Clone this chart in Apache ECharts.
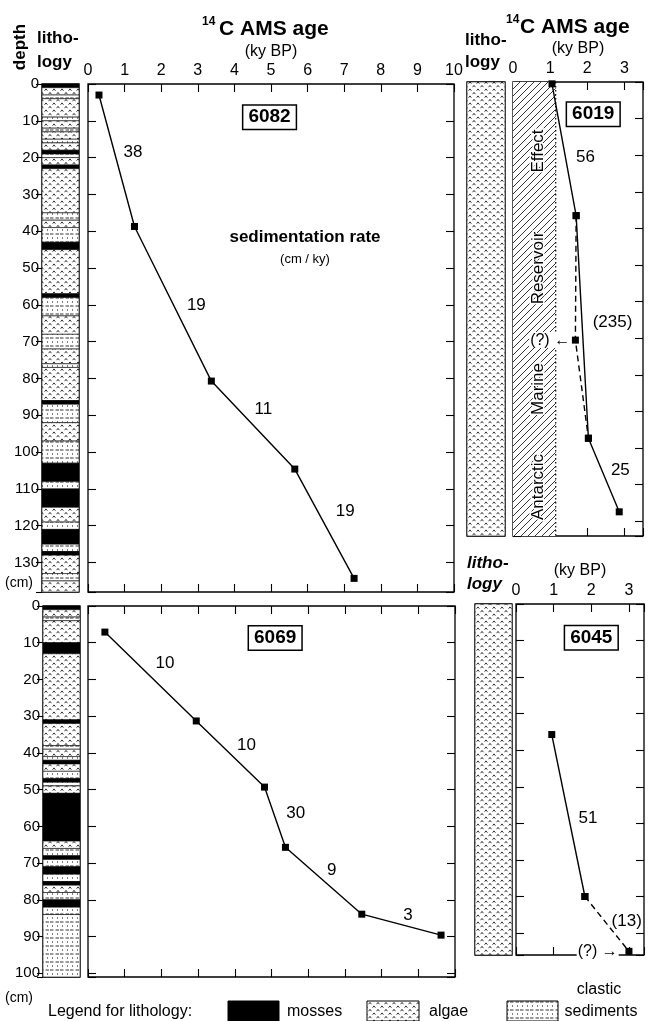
<!DOCTYPE html>
<html>
<head>
<meta charset="utf-8">
<script src="https://cdn.jsdelivr.net/npm/echarts@6/dist/echarts.min.js"></script>
<style>
  html, body { margin: 0; padding: 0; background: #fff; }
  #chart { width: 651px; height: 1021px; }
</style>
</head>
<body>
<div id="chart"></div>
<script>
// ---- data (ages in ky BP, depths in cm) ----
const core6082Age   = [0.3, 1.27, 3.37, 5.65, 7.27];
const core6082Depth = [3, 38.7, 80.7, 104.6, 134.3];
const core6082Rates = [[1.23, 18.5, '38'], [2.96, 60.2, '19'], [4.79, 88.3, '11'], [7.03, 116, '19']];

const core6069Age   = [0.46, 2.95, 4.81, 5.38, 7.46, 9.62];
const core6069Depth = [7.1, 31.3, 49.3, 65.7, 83.9, 89.6];
const core6069Rates = [[2.1, 15.5, '10'], [4.32, 37.9, '10'], [5.66, 56.4, '30'], [6.64, 71.9, '9'], [8.72, 84.2, '3']];

const core6019Age   = [1.05, 1.7, 2.03, 2.86];
const core6019Depth = [0.5, 36.5, 97.3, 117.4];
const core6019QAge   = [1.7, 1.68, 2.03];   // dashed path through the doubtful date
const core6019QDepth = [36.5, 70.5, 97.3];
const core6019Rates = [[1.95, 20.5, '56'], [2.68, 65.7, '(235)'], [2.89, 106, '25']];
const reservoirAge = 1.15;

const core6045Age   = [0.95, 1.83];
const core6045Depth = [35.7, 80];
const core6045QAge   = [1.83, 3.0];
const core6045QDepth = [80, 95];
const core6045Rates = [[1.91, 58.5, '51'], [2.94, 86.9, '(13)']];

// lithology layers: [top, bottom, type]  M = mosses, A = algae, C = clastic sediments
const litho6082 = [
  [0,1,'M'],[1,3,'A'],[3,4,'C'],[4,9,'A'],[9,10,'C'],[10,12,'A'],[12,13,'C'],[13,15,'A'],
  [15,16,'C'],[16,18,'A'],[18,19,'M'],[19,20,'C'],[20,22,'A'],[22,23,'M'],[23,35,'A'],
  [35,37,'C'],[37,39,'A'],[39,43,'C'],[43,45,'M'],[45,57,'A'],[57,58,'M'],[58,63,'C'],
  [63,68,'A'],[68,72,'C'],[72,76,'A'],[76,77,'C'],[77,86,'A'],[86,87,'M'],[87,92,'C'],
  [92,97,'A'],[97,103,'C'],[103,108,'M'],[108,110,'C'],[110,115,'M'],[115,119,'A'],
  [119,121,'C'],[121,125,'M'],[125,127,'C'],[127,128,'M'],[128,133,'A'],[133,135,'C'],[135,138,'A']
];
const litho6069 = [
  [0,1,'M'],[1,3,'A'],[3,4,'C'],[4,10,'A'],[10,13,'M'],[13,31,'A'],[31,32,'M'],[32,38,'A'],
  [38,39,'C'],[39,41,'A'],[41,42,'C'],[42,43,'M'],[43,45,'A'],[45,47,'C'],[47,48,'M'],
  [48,49,'C'],[49,51,'A'],[51,64,'M'],[64,66,'A'],[66,68,'C'],[68,69,'M'],[69,71,'C'],
  [71,73,'M'],[73,75,'C'],[75,76,'M'],[76,78,'A'],[78,80,'C'],[80,82,'M'],[82,84,'C'],[84,101,'C']
];
const litho6019 = [[0,124,'A']];
const litho6045 = [[0,96,'A']];

// ---- patterns ----
function pattern(w, h, draw) {
  const c = document.createElement('canvas');
  c.width = w; c.height = h;
  const ctx = c.getContext('2d');
  ctx.fillStyle = '#fff';
  ctx.fillRect(0, 0, w, h);
  ctx.strokeStyle = '#000';
  ctx.fillStyle = '#000';
  ctx.lineWidth = 0.8;
  draw(ctx);
  return { image: c, repeat: 'repeat' };
}
function caret(ctx, x, y) {
  ctx.beginPath();
  ctx.moveTo(x - 1.4, y + 1);
  ctx.lineTo(x, y - 0.8);
  ctx.lineTo(x + 1.4, y + 1);
  ctx.stroke();
}
const FILLS = {
  M: '#000',
  A: pattern(8, 7, ctx => { caret(ctx, 2, 2.2); caret(ctx, 6, 5.7); }),
  C: pattern(10, 8, ctx => {
    ctx.beginPath();
    ctx.moveTo(0, 2); ctx.lineTo(3.5, 2);
    ctx.moveTo(5.5, 2); ctx.lineTo(9, 2);
    ctx.stroke();
    ctx.fillRect(2, 5.5, 1, 1);
    ctx.fillRect(7, 5.5, 1, 1);
  })
};
const HATCH = pattern(7, 7, ctx => {
  ctx.lineWidth = 0.8;
  ctx.beginPath();
  ctx.moveTo(0, 7); ctx.lineTo(7, 0);
  ctx.moveTo(-1, 1); ctx.lineTo(1, -1);
  ctx.moveTo(6, 8); ctx.lineTo(8, 6);
  ctx.stroke();
});

const FONT = 'Liberation Sans, Arial, sans-serif';

// ---- grids ----
const grids = [
  { left: 42,  top: 84,  width: 37,  height: 508 },  // 0 litho 6082
  { left: 88,  top: 84,  width: 366, height: 508 },  // 1 6082
  { left: 43,  top: 606, width: 37,  height: 371 },  // 2 litho 6069
  { left: 88,  top: 606, width: 367, height: 371 },  // 3 6069
  { left: 467, top: 82,  width: 38,  height: 454 },  // 4 litho 6019
  { left: 513, top: 82,  width: 130, height: 454 },  // 5 6019
  { left: 475, top: 604, width: 37,  height: 351 },  // 6 litho 6045
  { left: 516, top: 604, width: 128, height: 351 }   // 7 6045
].map(g => Object.assign({ show: true, borderColor: '#000', borderWidth: 1.3, outerBoundsMode: 'none' }, g));

function hiddenX(gi) {
  return { type: 'value', gridIndex: gi, min: 0, max: 1, show: false };
}
function ageAxis(gi, max, pos, labels) {
  return {
    type: 'value', gridIndex: gi, min: 0, max: max, interval: 1, position: pos,
    axisLine: { show: false, onZero: false }, splitLine: { show: false },
    axisTick: { show: true, inside: true, length: 8, lineStyle: { color: '#000', width: 1.1 } },
    axisLabel: {
      show: labels, margin: 5, color: '#000', fontSize: 16, fontFamily: FONT,
      formatter: v => Number.isInteger(v) ? String(v) : ''
    }
  };
}
function depthAxis(gi, max, pos, mode) {
  const a = {
    type: 'value', gridIndex: gi, min: 0, max: max, interval: 10, inverse: true, position: pos,
    axisLine: { show: false, onZero: false }, splitLine: { show: false },
    axisTick: { show: mode !== 'none', inside: mode !== 'labels', length: mode === 'labels' ? 6 : 8,
      lineStyle: { color: '#000', width: 1.1 } },
    axisLabel: {
      show: mode === 'labels', margin: 3, color: '#000', fontSize: 15, fontFamily: FONT,
      formatter: v => v % 10 === 0 ? String(v) : ''
    }
  };
  if (mode === 'none') a.show = false;
  return a;
}

const xAxis = [
  hiddenX(0), ageAxis(1, 10, 'top', true), ageAxis(1, 10, 'bottom', false),
  hiddenX(2), ageAxis(3, 10, 'top', false), ageAxis(3, 10, 'bottom', false),
  hiddenX(4), ageAxis(5, 3.5, 'top', true), ageAxis(5, 3.5, 'bottom', false),
  hiddenX(6), ageAxis(7, 3.4, 'top', true), ageAxis(7, 3.4, 'bottom', false)
];
const yAxis = [
  depthAxis(0, 138, 'left', 'labels'), depthAxis(1, 138, 'left', 'ticks'), depthAxis(1, 138, 'right', 'ticks'),
  depthAxis(2, 101, 'left', 'labels'), depthAxis(3, 101, 'left', 'ticks'), depthAxis(3, 101, 'right', 'ticks'),
  depthAxis(4, 124, 'left', 'none'), depthAxis(5, 124, 'left', 'ticks'), depthAxis(5, 124, 'right', 'ticks'),
  depthAxis(6, 96, 'left', 'none'), depthAxis(7, 96, 'left', 'ticks'), depthAxis(7, 96, 'right', 'ticks')
];

// ---- series helpers ----
function lithoSeries(layers, ai) {
  return {
    type: 'custom', xAxisIndex: ai, yAxisIndex: ai, silent: true, z: 1,
    data: layers.map(l => [0, l[0]]),
    renderItem: (params, api) => {
      const l = layers[params.dataIndex];
      const p0 = api.coord([0, l[0]]);
      const p1 = api.coord([1, l[1]]);
      return {
        type: 'rect',
        shape: { x: p0[0], y: p0[1], width: p1[0] - p0[0], height: p1[1] - p0[1] },
        style: { fill: FILLS[l[2]], stroke: '#000', lineWidth: 0.6 }
      };
    }
  };
}
function ageLine(ages, depths, ai, dashed) {
  return {
    type: 'line', xAxisIndex: ai, yAxisIndex: ai, silent: true, z: 5,
    data: ages.map((a, i) => [a, depths[i]]),
    symbol: 'rect', symbolSize: 7, showSymbol: true,
    itemStyle: { color: '#000' },
    lineStyle: { color: '#000', width: 1.4, type: dashed ? [6, 4] : 'solid' }
  };
}
function labelSeries(items, ai, extra) {
  return {
    type: 'scatter', xAxisIndex: ai, yAxisIndex: ai, silent: true, z: 6,
    symbol: 'circle', symbolSize: 0, itemStyle: { color: '#000', opacity: 1 },
    data: items.map(d => ({ value: [d[0], d[1]], name: d[2] })),
    label: Object.assign({
      show: true, position: 'inside', formatter: p => p.name, opacity: 1,
      color: '#000', fontSize: 17, fontFamily: FONT
    }, extra || {})
  };
}
const boxStyle = {
  fontSize: 19, fontWeight: 'bold', borderColor: '#000', borderWidth: 1.5,
  backgroundColor: '#fff', padding: [3, 5, 1, 5]
};

const series = [
  lithoSeries(litho6082, 0),
  lithoSeries(litho6069, 3),
  lithoSeries(litho6019, 6),
  lithoSeries(litho6045, 9),
  // reservoir effect band in 6019
  {
    type: 'custom', xAxisIndex: 7, yAxisIndex: 7, silent: true, z: 1,
    data: [[0, 0]],
    renderItem: (params, api) => {
      const p0 = api.coord([0, 0]);
      const p1 = api.coord([reservoirAge, 124]);
      return {
        type: 'rect',
        shape: { x: p0[0], y: p0[1], width: p1[0] - p0[0], height: p1[1] - p0[1] },
        style: { fill: HATCH }
      };
    }
  },
  {
    type: 'line', xAxisIndex: 7, yAxisIndex: 7, silent: true, z: 2, symbol: 'none',
    data: [[reservoirAge, 0], [reservoirAge, 124]],
    lineStyle: { color: '#000', width: 1.2, type: [1.5, 2.5] }
  },
  ageLine(core6082Age, core6082Depth, 1, false),
  ageLine(core6069Age, core6069Depth, 4, false),
  ageLine(core6019Age, core6019Depth, 7, false),
  ageLine(core6019QAge, core6019QDepth, 7, true),
  ageLine(core6045Age, core6045Depth, 10, false),
  ageLine(core6045QAge, core6045QDepth, 10, true),
  labelSeries(core6082Rates, 1),
  labelSeries(core6069Rates, 4),
  labelSeries(core6019Rates, 7),
  labelSeries(core6045Rates, 10),
  labelSeries([[4.96, 9, '6082']], 1, boxStyle),
  labelSeries([[5.1, 8.7, '6069']], 4, boxStyle),
  labelSeries([[2.16, 8.8, '6019']], 7, boxStyle),
  labelSeries([[2.0, 9.2, '6045']], 10, boxStyle),
  labelSeries([[1.0, 70.5, '(?) \u2190']], 7, { fontSize: 16, backgroundColor: '#fff', padding: [0, 1] }),
  labelSeries([[2.17, 95, '(?) \u2192']], 10, { fontSize: 16, backgroundColor: '#fff', padding: [0, 1] })
];

// ---- free text and legend ----
function txt(x, y, text, size, opts) {
  return Object.assign({
    type: 'text', x: x, y: y, silent: true, z: 10,
    style: Object.assign({
      text: text, fill: '#000', font: (opts && opts.weight ? opts.weight + ' ' : '') + size + 'px ' + FONT,
      align: 'left', verticalAlign: 'middle'
    }, opts && opts.style)
  }, opts && opts.el);
}
const reservoirWords = [['Effect', 151], ['Reservoir', 268], ['Marine', 389], ['Antarctic', 487]];
const graphic = [
  txt(20, 47, 'depth', 17, { weight: 'bold', el: { rotation: Math.PI / 2 }, style: { align: 'center' } }),
  txt(37, 38, 'litho-', 17, { weight: 'bold' }),
  txt(37, 62, 'logy', 17, { weight: 'bold' }),
  txt(202, 22, '14', 12, { weight: 'bold' }),
  txt(219, 29, 'C AMS age', 21, { weight: 'bold' }),
  txt(271, 52, '(ky BP)', 16, { style: { align: 'center' } }),
  txt(305, 237, 'sedimentation rate', 17, { weight: 'bold', style: { align: 'center' } }),
  txt(305, 259, '(cm / ky)', 13, { style: { align: 'center' } }),
  txt(5, 583, '(cm)', 14),
  txt(465, 40, 'litho-', 17, { weight: 'bold' }),
  txt(465, 62, 'logy', 17, { weight: 'bold' }),
  txt(506, 20, '14', 12, { weight: 'bold' }),
  txt(520, 27, 'C AMS age', 21, { weight: 'bold' }),
  txt(578, 49, '(ky BP)', 16, { style: { align: 'center' } }),
  txt(467, 563, 'litho-', 17, { weight: 'italic bold' }),
  txt(467, 584, 'logy', 17, { weight: 'italic bold' }),
  txt(580, 571, '(ky BP)', 16, { style: { align: 'center' } }),
  txt(5, 998, '(cm)', 14),
  txt(48, 1012, 'Legend for lithology:', 16),
  { type: 'rect', shape: { x: 228, y: 1001, width: 51, height: 20 }, style: { fill: FILLS.M, stroke: '#000', lineWidth: 1 } },
  txt(287, 1012, 'mosses', 16),
  { type: 'rect', shape: { x: 367, y: 1001, width: 52, height: 20 }, style: { fill: FILLS.A, stroke: '#000', lineWidth: 1 } },
  txt(429, 1012, 'algae', 16),
  { type: 'rect', shape: { x: 507, y: 1001, width: 51, height: 20 }, style: { fill: FILLS.C, stroke: '#000', lineWidth: 1 } },
  txt(599, 990, 'clastic', 16, { style: { align: 'center' } }),
  txt(601, 1012, 'sediments', 16, { style: { align: 'center' } })
].concat(reservoirWords.map(w =>
  txt(538, w[1], w[0], 17, { el: { rotation: Math.PI / 2 },
    style: { align: 'center', stroke: '#fff', lineWidth: 3 } })
));

const chart = echarts.init(document.getElementById('chart'));
chart.setOption({
  animation: false,
  backgroundColor: '#fff',
  grid: grids,
  xAxis: xAxis,
  yAxis: yAxis,
  series: series,
  graphic: graphic
});
</script>
</body>
</html>
